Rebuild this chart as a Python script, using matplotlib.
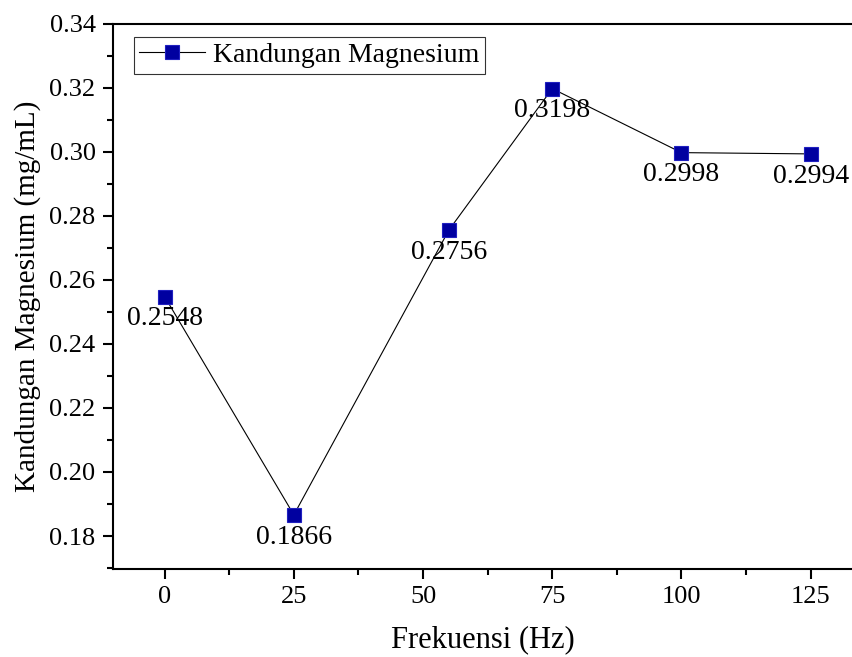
import matplotlib.pyplot as plt
import numpy as np

plt.rcParams['font.family'] = ['Liberation Serif', 'DejaVu Serif']

# data
frekuensi = [0, 25, 55, 75, 100, 125]
magnesium = [0.2548, 0.1866, 0.2756, 0.3198, 0.2998, 0.2994]
labels = ['0.2548', '0.1866', '0.2756', '0.3198', '0.2998', '0.2994']

fig = plt.figure(figsize=(8.52, 6.57), dpi=100)
ax = fig.add_axes([0.1326, 0.134, 0.8674, 0.8295])

ax.plot(frekuensi, magnesium, color='black', linewidth=0.8,
        marker='s', markersize=9.5, markerfacecolor='#0000a0',
        markeredgecolor='#2020c0', markeredgewidth=0.8,
        label='Kandungan Magnesium')

for x, y, t in zip(frekuensi, magnesium, labels):
    ax.annotate(t, (x, y), xytext=(0, -16), textcoords='offset points',
                ha='center', va='center', fontsize=20)

ax.set_xlim(-10, 133)
ax.set_ylim(0.1697, 0.34)
ax.set_xticks([0, 25, 50, 75, 100, 125])
ax.set_xticks(np.arange(12.5, 130, 25), minor=True)
ax.set_yticks(np.arange(0.18, 0.341, 0.02))
ax.set_yticks(np.arange(0.17, 0.341, 0.02), minor=True)
ax.yaxis.set_major_formatter(plt.FormatStrFormatter('%.2f'))

ax.spines['right'].set_visible(False)
for s in ['left', 'bottom', 'top']:
    ax.spines[s].set_linewidth(1.5)
ax.tick_params(which='major', direction='out', length=7.5, width=1.5, labelsize=19, top=False, pad=5)
ax.tick_params(which='minor', direction='out', length=4, width=1.5, top=False)

ax.set_xlabel('Frekuensi (Hz)', fontsize=22, labelpad=12)
ax.set_ylabel('Kandungan Magnesium (mg/mL)', fontsize=21, labelpad=6)

leg = ax.legend(loc='upper left', bbox_to_anchor=(0.028, 0.976), fontsize=20,
                frameon=True, fancybox=False, edgecolor='black',
                borderpad=0.2, handlelength=2.35, handletextpad=0.3,
                borderaxespad=0)
leg.get_frame().set_linewidth(0.8)

fig.savefig('out.png', dpi=100)
